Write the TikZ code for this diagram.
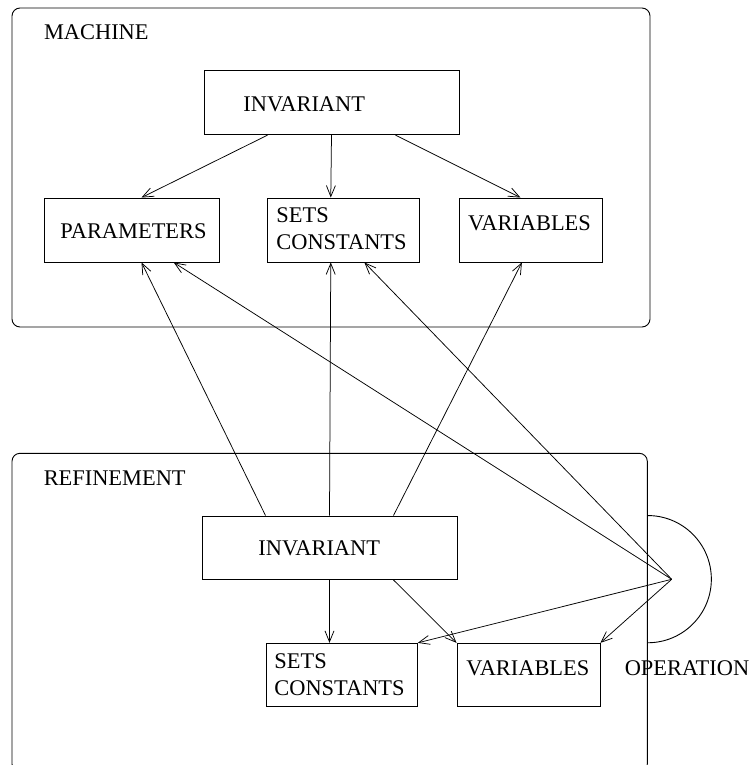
\documentclass[tikz,border=0pt]{standalone}
\usepackage{fontspec}
\setmainfont{Liberation Serif}
\usetikzlibrary{arrows.meta,calc}
\begin{document}
\begin{tikzpicture}[x=1pt,y=-1pt,
  line width=0.9pt,
  frame/.style={draw, rectangle, rounded corners=8pt, inner sep=0pt},
  box/.style={draw, rectangle, inner sep=0pt, minimum height=64pt},
  lbl/.style={inner sep=0pt, anchor=base west, align=left,
    font=\fontsize{22.4}{27}\selectfont},
  link/.style={-{Straight Barb[length=11pt,width=9pt]}, line width=0.75pt},
]
\useasboundingbox (0,0) rectangle (749,765);

% containers
\node[frame, minimum width=638pt, minimum height=319pt] (machine) at (331,167.5) {};
\node[frame, minimum width=635.3pt, minimum height=318.7pt] (refinement) at (329.65,612.65) {};
\node[lbl] (machineT) at (43.6,40) {MACHINE};
\node[lbl] (refinementT) at (43.3,485) {REFINEMENT};

% boxes of the machine
\node[box, minimum width=255pt] (mInv) at (331.5,102.7) {};
\node[box, minimum width=175pt] (mPar) at (131.5,230) {};
\node[box, minimum width=152pt] (mSets) at (343,230) {};
\node[box, minimum width=143pt] (mVar) at (530.5,230) {};
\node[lbl] (mInvT) at (243,112) {INVARIANT};
\node[lbl] (mParT) at (60,238) {PARAMETERS};
\node[lbl] (mSetsT) at (276,249) {SETS\\CONSTANTS};
\node[lbl] (mVarT) at (467.6,230) {VARIABLES};

% boxes of the refinement
\node[box, minimum width=255pt, minimum height=63.5pt] (rInv) at (329.5,547.75) {};
\node[box, minimum width=151.3pt, minimum height=63.4pt] (rSets) at (341.65,675) {};
\node[box, minimum width=143pt, minimum height=63.4pt] (rVar) at (528.5,675) {};
\node[lbl] (rInvT) at (258,555) {INVARIANT};
\node[lbl] (rSetsT) at (274,695) {SETS\\CONSTANTS};
\node[lbl] (rVarT) at (466,675) {VARIABLES};

% operation
\coordinate (op) at (671.7,579.3);
\draw (refinement.east |- rInv.north) arc[start angle=-90, end angle=90, radius=63.6];
\node[lbl] (opT) at (624.3,675) {OPERATION};

% machine invariant
\draw[link] ($(mInv.south west)!0.25!(mInv.south east)$) -- ($(mPar.north west)!0.557!(mPar.north east)$);
\draw[link] ($(mInv.south west)!0.5!(mInv.south east)$) -- ($(mSets.north west)!0.42!(mSets.north east)$);
\draw[link] ($(mInv.south west)!0.75!(mInv.south east)$) -- ($(mVar.north west)!0.43!(mVar.north east)$);

% refinement invariant
\draw[link] ($(rInv.north west)!0.25!(rInv.north east)$) -- ($(mPar.south west)!0.557!(mPar.south east)$);
\draw[link] ($(rInv.north west)!0.5!(rInv.north east)$) -- ($(mSets.south west)!0.42!(mSets.south east)$);
\draw[link] ($(rInv.north west)!0.75!(rInv.north east)$) -- ($(mVar.south west)!0.44!(mVar.south east)$);
\draw[link] ($(rInv.south west)!0.5!(rInv.south east)$) -- ($(rSets.north west)!0.42!(rSets.north east)$);
\draw[link] ($(rInv.south west)!0.75!(rInv.south east)$) -- (rVar.north west);

% operation
\draw[link] (op) -- ($(mPar.south west)!0.74!(mPar.south east)$);
\draw[link] (op) -- ($(mSets.south west)!0.64!(mSets.south east)$);
\draw[link] (op) -- (rSets.north east);
\draw[link] (op) -- (rVar.north east);
\end{tikzpicture}
\end{document}
